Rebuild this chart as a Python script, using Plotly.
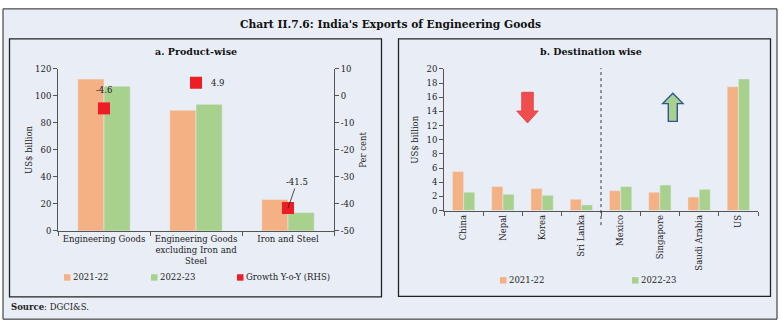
import plotly.graph_objects as go

# ---------------- data ----------------
products = ["Engineering Goods", "Engineering Goods<br>excluding Iron and<br>Steel", "Iron and Steel"]
prod_2122 = [112.5, 89.5, 23.3]
prod_2223 = [107.3, 93.8, 13.6]
growth = [-4.6, 4.9, -41.5]

countries = ["China", "Nepal", "Korea", "Sri Lanka", "Mexico", "Singapore", "Saudi Arabia", "US"]
dest_2122 = [5.5, 3.4, 3.1, 1.6, 2.8, 2.6, 1.9, 17.5]
dest_2223 = [2.6, 2.3, 2.15, 0.8, 3.4, 3.6, 3.0, 18.6]

left_ticks = [0, 20, 40, 60, 80, 100, 120]
right_ticks = [10, 0, -10, -20, -30, -40, -50]
dest_ticks = list(range(0, 21, 2))

# ---------------- style ----------------
W, H = 782, 329
ORANGE = "#F4B183"
GREEN = "#A9D18E"
RED = "#EE1C25"
BG = "#E9EEF6"
FONT = "DejaVu Serif"
TXT = "#222222"


def px(x):
    return x / W


def py(y):
    return 1 - y / H


fig = go.Figure()

# left panel
fig.add_trace(go.Bar(x=products, y=prod_2122, name="2021-22", marker_color=ORANGE,
                     xaxis="x", yaxis="y"))
fig.add_trace(go.Bar(x=products, y=prod_2223, name="2022-23", marker_color=GREEN,
                     xaxis="x", yaxis="y"))
fig.add_trace(go.Scatter(x=products, y=growth, name="Growth Y-o-Y (RHS)", mode="markers",
                         marker=dict(symbol="square", size=12, color=RED),
                         xaxis="x", yaxis="y2"))

# right panel
fig.add_trace(go.Bar(x=countries, y=dest_2122, name="2021-22", marker_color=ORANGE,
                     xaxis="x2", yaxis="y3"))
fig.add_trace(go.Bar(x=countries, y=dest_2223, name="2022-23", marker_color=GREEN,
                     xaxis="x2", yaxis="y3"))

axis_common = dict(showline=True, linecolor="#555555", linewidth=1, ticks="outside",
                   ticklen=4, tickcolor="#555555", showgrid=False, zeroline=False,
                   tickfont=dict(family=FONT, size=8.5, color=TXT))

fig.update_layout(
    width=W, height=H,
    margin=dict(l=0, r=0, t=0, b=0),
    paper_bgcolor="white",
    plot_bgcolor="rgba(0,0,0,0)",
    font=dict(family=FONT, size=8.5, color=TXT),
    barmode="group",
    bargap=0.43,
    bargroupgap=0,
    showlegend=False,
    xaxis=dict(domain=[px(58), px(334)], anchor="y", tickson="boundaries", **axis_common),
    yaxis=dict(domain=[py(233), py(66)], anchor="x", range=[0, 120], tickvals=left_ticks,
               ticktext=[str(v) for v in left_ticks],
               title=dict(text="US$ billion", standoff=1,
                          font=dict(family=FONT, size=8.5, color=TXT)),
               **axis_common),
    yaxis2=dict(overlaying="y", side="right", anchor="x", range=[-50, 10], tickvals=right_ticks,
                ticktext=[str(v) for v in right_ticks],
                title=dict(text="Per cent", standoff=6,
                           font=dict(family=FONT, size=8.5, color=TXT)),
                **axis_common),
    xaxis2=dict(domain=[px(444), px(758)], anchor="y3", tickson="boundaries", tickangle=-90,
                **axis_common),
    yaxis3=dict(domain=[py(212), py(66)], anchor="x2", range=[0, 20], tickvals=dest_ticks,
                ticktext=[str(v) for v in dest_ticks],
                title=dict(text="US$ billion", standoff=6,
                           font=dict(family=FONT, size=8.5, color=TXT)),
                **axis_common),
)

shapes = []
# outer frame with background
shapes.append(dict(type="rect", xref="paper", yref="paper", x0=px(3), x1=px(777),
                   y0=py(324), y1=py(4), fillcolor=BG, line=dict(color="#222222", width=1),
                   layer="below"))
# panel boxes
shapes.append(dict(type="rect", xref="paper", yref="paper", x0=px(9.5), x1=px(381.5),
                   y0=py(301), y1=py(35), line=dict(color="#222222", width=1.3),
                   fillcolor="rgba(0,0,0,0)", layer="below"))
shapes.append(dict(type="rect", xref="paper", yref="paper", x0=px(398.5), x1=px(770.5),
                   y0=py(300.5), y1=py(35), line=dict(color="#222222", width=1.3),
                   fillcolor="rgba(0,0,0,0)", layer="below"))
# dotted separator between Sri Lanka and Mexico
shapes.append(dict(type="line", xref="x2", yref="paper", x0=3.5, x1=3.5,
                   y0=py(227), y1=py(65), line=dict(color="#333333", width=1, dash="dot")))


def path(points):
    return "M " + " L ".join(f"{px(x):.5f},{py(y):.5f}" for x, y in points) + " Z"


# red down arrow
red_arrow = [(521.7, 90), (533.3, 90), (533.3, 109.3), (538.3, 109.3), (527.5, 121.7),
             (516.7, 109.3), (521.7, 109.3)]
shapes.append(dict(type="path", xref="paper", yref="paper", path=path(red_arrow),
                   fillcolor="#F04E4E", line=dict(color="#E23A3A", width=0.8)))
# green up arrow
green_arrow = [(668.3, 120), (677.3, 120), (677.3, 101.7), (683.0, 101.7), (672.8, 91),
               (662.7, 101.7), (668.3, 101.7)]
shapes.append(dict(type="path", xref="paper", yref="paper", path=path(green_arrow),
                   fillcolor=GREEN, line=dict(color="#2F5597", width=1.4)))

ann = []


def legend_item(x_sym, y, color, label):
    shapes.append(dict(type="rect", xref="paper", yref="paper", x0=px(x_sym), x1=px(x_sym + 6.5),
                       y0=py(y + 3.3), y1=py(y - 3.3), fillcolor=color, line=dict(width=0)))
    ann.append(dict(text=label, xref="paper", yref="paper", x=px(x_sym + 6.5), y=py(y),
                    xanchor="left", yanchor="middle", showarrow=False,
                    font=dict(family=FONT, size=8.5, color=TXT)))


legend_item(64, 281, ORANGE, "2021-22")
legend_item(151, 281, GREEN, "2022-23")
legend_item(237, 281, RED, "Growth Y-o-Y (RHS)")
legend_item(500, 284, ORANGE, "2021-22")
legend_item(632, 284, GREEN, "2022-23")

ann.append(dict(text="<b>Chart II.7.6: India's Exports of Engineering Goods</b>", xref="paper",
                yref="paper", x=px(390), y=py(20), xanchor="center", yanchor="middle",
                showarrow=False, font=dict(family=FONT, size=10.7, color="#111111")))
ann.append(dict(text="<b>a. Product-wise</b>", xref="paper", yref="paper", x=px(196), y=py(48),
                xanchor="center", yanchor="middle",
                showarrow=False, font=dict(family=FONT, size=9.5, color="#111111")))
ann.append(dict(text="<b>b. Destination wise</b>", xref="paper", yref="paper", x=px(591),
                y=py(48), xanchor="center", yanchor="middle",
                showarrow=False, font=dict(family=FONT, size=9.5, color="#111111")))
ann.append(dict(text="<b>Source</b>: DGCI&S.", xref="paper", yref="paper", x=px(9), y=py(311),
                xanchor="left", yanchor="middle", showarrow=False,
                font=dict(family=FONT, size=8.5, color=TXT)))

# growth labels
ann.append(dict(text=f"{growth[0]}", xref="x", yref="y2", x=products[0], y=growth[0],
                yshift=18, showarrow=False, font=dict(family=FONT, size=8.5, color=TXT)))
ann.append(dict(text=f"{growth[1]}", xref="x", yref="y2", x=products[1], y=growth[1],
                xshift=22, showarrow=False, font=dict(family=FONT, size=8.5, color=TXT)))
ann.append(dict(text=f"{growth[2]}", xref="x", yref="y2", x=products[2], y=growth[2],
                ax=9, ay=-26, showarrow=True, arrowhead=0, arrowwidth=0.8,
                arrowcolor="#222222", font=dict(family=FONT, size=8.5, color=TXT)))

fig.update_layout(shapes=shapes, annotations=ann)

fig.write_html("out.html")
